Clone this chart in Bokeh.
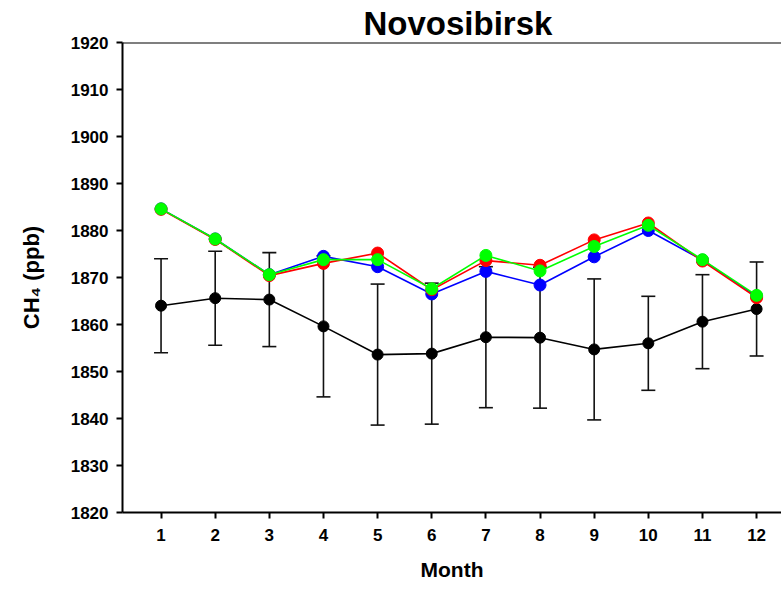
from bokeh.plotting import figure
from bokeh.models import (ColumnDataSource, Whisker, TeeHead, FixedTicker, Span,
                          Range1d, Title)
from bokeh.embed import file_html
from bokeh.resources import INLINE

months = [1, 2, 3, 4, 5, 6, 7, 8, 9, 10, 11, 12]
observed = [1864.0, 1865.6, 1865.3, 1859.6, 1853.6, 1853.8, 1857.3, 1857.2, 1854.7, 1856.0, 1860.6, 1863.3]
observed_err = [10, 10, 10, 15, 15, 15, 15, 15, 15, 10, 10, 10]
model_blue = [1884.6, 1878.2, 1870.6, 1874.5, 1872.3, 1866.5, 1871.3, 1868.4, 1874.4, 1880.0, 1873.7, 1866.0]
model_red = [1884.5, 1878.1, 1870.4, 1873.0, 1875.2, 1867.4, 1873.6, 1872.6, 1878.0, 1881.6, 1873.5, 1865.7]
model_green = [1884.6, 1878.2, 1870.6, 1873.8, 1873.8, 1867.6, 1874.7, 1871.4, 1876.6, 1881.1, 1873.8, 1866.2]
y_ticks = [1820, 1830, 1840, 1850, 1860, 1870, 1880, 1890, 1900, 1910, 1920]
title_text = "Novosibirsk"

FONT = "Liberation Sans"

p = figure(width=781, height=591, output_backend="svg", toolbar_location=None,
           x_range=Range1d(0.288, 12.46), y_range=Range1d(1820, 1920),
           min_border_left=122, min_border_right=0, min_border_top=42, min_border_bottom=79)
p.outline_line_color = None
p.xgrid.grid_line_color = None
p.ygrid.grid_line_color = None
p.background_fill_color = "white"
p.border_fill_color = "white"

p.title = Title(text=title_text, align="left", offset=241, standoff=2,
                text_font=FONT, text_font_style="bold", text_font_size="33px",
                text_color="black")

lower = [o - e for o, e in zip(observed, observed_err)]
upper = [o + e for o, e in zip(observed, observed_err)]
src = ColumnDataSource(dict(x=months, y=observed, lower=lower, upper=upper))

w = Whisker(base="x", lower="lower", upper="upper", source=src,
            line_color="#111111", line_width=1.6,
            upper_head=TeeHead(size=14, line_color="#111111", line_width=1.6),
            lower_head=TeeHead(size=14, line_color="#111111", line_width=1.6))
p.add_layout(w)

p.line(months, observed, line_color="black", line_width=1.6)
p.scatter(months, observed, marker="circle", size=11, fill_color="black", line_color="black")

for vals, col in [(model_blue, "#0000FF"), (model_red, "#FF0000"), (model_green, "#00FF00")]:
    p.line(months, vals, line_color=col, line_width=1.6)
    p.scatter(months, vals, marker="circle", size=12, fill_color=col, line_color=col)

# axes styling
for ax in (p.xaxis[0], p.yaxis[0]):
    ax.axis_line_width = 2
    ax.axis_line_color = "black"
    ax.major_tick_line_width = 2
    ax.major_tick_line_color = "black"
    ax.major_tick_in = 0
    ax.major_tick_out = 6
    ax.minor_tick_line_color = None
    ax.major_label_text_font = FONT
    ax.major_label_text_font_style = "bold"
    ax.major_label_text_font_size = "17px"
    ax.major_label_text_color = "black"
    ax.axis_label_text_font = FONT
    ax.axis_label_text_font_style = "bold"
    ax.axis_label_text_font_size = "21px"
    ax.axis_label_text_color = "black"

p.yaxis[0].axis_label_text_font_size = "22px"
p.xaxis[0].ticker = FixedTicker(ticks=months)
p.yaxis[0].ticker = FixedTicker(ticks=y_ticks)
p.xaxis[0].axis_label = "Month"
p.yaxis[0].axis_label = "CH\u2084 (ppb)"
p.xaxis[0].major_label_standoff = 10
p.yaxis[0].major_label_standoff = 8
p.xaxis[0].axis_label_standoff = 14
p.yaxis[0].axis_label_standoff = 24

# top frame border
p.add_layout(Span(location=y_ticks[-1], dimension="width", line_color="black", line_width=2))

open("out.html", "w").write(file_html(p, INLINE))
